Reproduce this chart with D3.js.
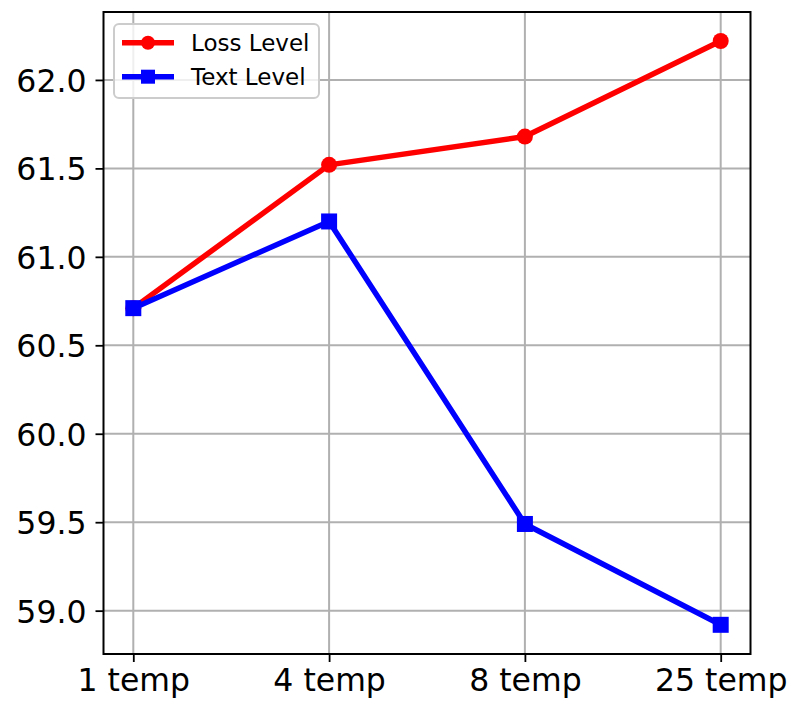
<!DOCTYPE html>
<html><head><meta charset="utf-8">
<script src="https://cdn.jsdelivr.net/npm/d3@7"></script>
<style>body{margin:0;background:#fff;} svg{display:block;font-family:"DejaVu Sans",sans-serif;}</style>
</head><body>
<script>
const categories = ["1 temp", "4 temp", "8 temp", "25 temp"];
const lossLevel = [60.71, 61.52, 61.68, 62.22];
const textLevel = [60.71, 61.20, 59.49, 58.92];
const yTicks = [59.0, 59.5, 60.0, 60.5, 61.0, 61.5, 62.0];
const seriesNames = ["Loss Level", "Text Level"];

const W = 796, H = 712;
const plot = {left: 103.5, right: 750.5, top: 12, bottom: 654};
const svg = d3.select("body").append("svg").attr("width", W).attr("height", H);

const x = d3.scalePoint().domain(categories).range([133.3, 720.7]);
const y = d3.scaleLinear().domain([58.755, 62.384]).range([plot.bottom, plot.top]);

// grid
const g = svg.append("g");
g.selectAll("line.gx").data(categories).enter().append("line")
  .attr("x1", d => x(d)).attr("x2", d => x(d))
  .attr("y1", plot.top).attr("y2", plot.bottom)
  .attr("stroke", "#b0b0b0").attr("stroke-width", 2);
g.selectAll("line.gy").data(yTicks).enter().append("line")
  .attr("y1", d => y(d)).attr("y2", d => y(d))
  .attr("x1", plot.left).attr("x2", plot.right)
  .attr("stroke", "#b0b0b0").attr("stroke-width", 2);

// axes
const xAxis = d3.axisBottom(x).tickSize(8).tickPadding(6);
const yAxis = d3.axisLeft(y).tickValues(yTicks).tickFormat(d3.format(".1f")).tickSize(8).tickPadding(9);
const gx = svg.append("g").attr("transform", `translate(0,${plot.bottom})`).call(xAxis);
const gy = svg.append("g").attr("transform", `translate(${plot.left},0)`).call(yAxis);
[gx, gy].forEach(a => {
  a.select(".domain").remove();
  a.selectAll(".tick line").attr("stroke", "#000").attr("stroke-width", 1.8);
  a.selectAll(".tick text").attr("font-size", 31.5).attr("fill", "#000")
    .attr("font-family", "DejaVu Sans, sans-serif");
});
gx.selectAll(".tick text").attr("dy", "0.71em").attr("y", 15);
gy.selectAll(".tick text").attr("dy", "0.36em");

// frame
svg.append("rect").attr("x", plot.left).attr("y", plot.top)
  .attr("width", plot.right - plot.left).attr("height", plot.bottom - plot.top)
  .attr("fill", "none").attr("stroke", "#000").attr("stroke-width", 2);

const line = d3.line().x((d, i) => x(categories[i])).y(d => y(d));
const series = [
  {name: seriesNames[0], values: lossLevel, color: "#ff0000", marker: "circle"},
  {name: seriesNames[1], values: textLevel, color: "#0000ff", marker: "square"}
];
function drawMarker(sel, s, cx, cy, size) {
  if (s.marker === "circle") {
    sel.append("circle").attr("cx", cx).attr("cy", cy).attr("r", size / 2).attr("fill", s.color);
  } else {
    sel.append("rect").attr("x", cx - size / 2).attr("y", cy - size / 2)
      .attr("width", size).attr("height", size).attr("fill", s.color);
  }
}
series.forEach(s => {
  const gs = svg.append("g");
  gs.append("path").datum(s.values).attr("d", line).attr("fill", "none")
    .attr("stroke", s.color).attr("stroke-width", 5.5).attr("stroke-linejoin", "round");
  s.values.forEach((v, i) => drawMarker(gs, s, x(categories[i]), y(v), 16));
});

// legend
const lg = svg.append("g");
lg.append("rect").attr("x", 114).attr("y", 24).attr("width", 205).attr("height", 74)
  .attr("rx", 5).attr("fill", "rgba(255,255,255,0.8)").attr("stroke", "#cccccc").attr("stroke-width", 2);
series.forEach((s, i) => {
  const cy = 42.7 + i * 34;
  lg.append("line").attr("x1", 122).attr("x2", 174).attr("y1", cy).attr("y2", cy)
    .attr("stroke", s.color).attr("stroke-width", 5.5);
  drawMarker(lg, s, 148, cy, 14);
  lg.append("text").attr("x", 191).attr("y", cy).attr("dy", "0.36em")
    .attr("font-size", 23).attr("fill", "#000").text(s.name);
});
</script>
</body></html>
